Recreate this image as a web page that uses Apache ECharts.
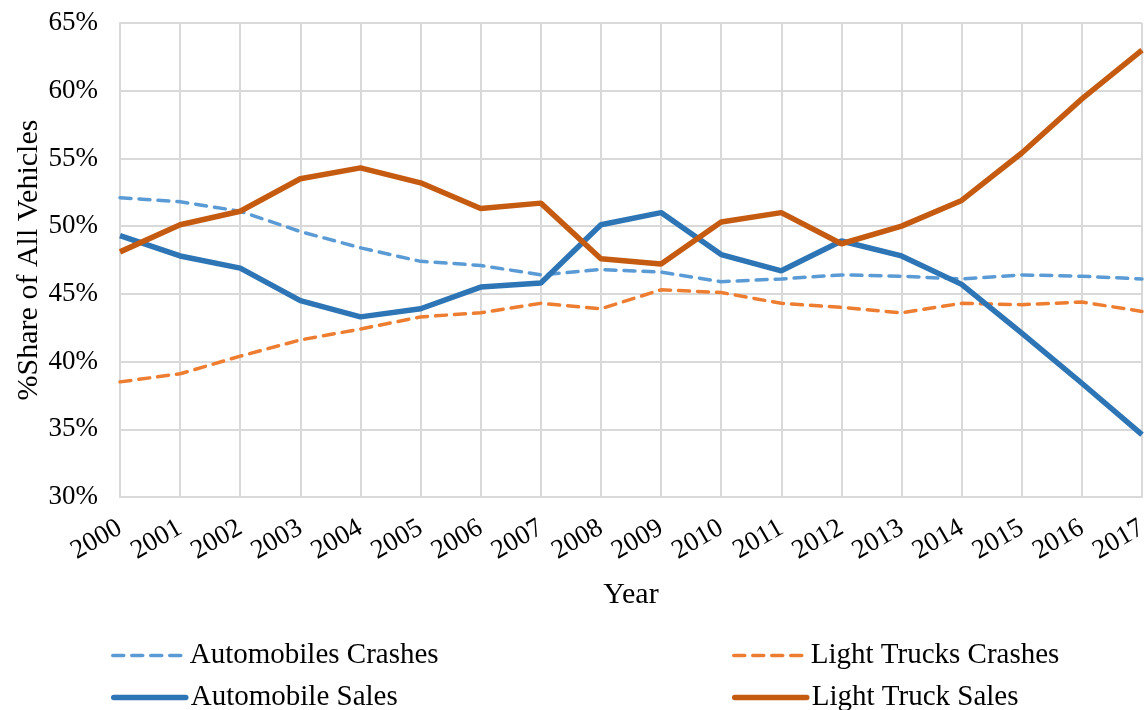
<!DOCTYPE html>
<html>
<head>
<meta charset="utf-8">
<script src="https://cdn.jsdelivr.net/npm/echarts@6/dist/echarts.min.js"></script>
<style>
  html, body { margin: 0; padding: 0; background: #fff; }
  #chart { width: 1145px; height: 710px; }
</style>
</head>
<body>
<div id="chart"></div>
<script>
var years = ['2000', '2001', '2002', '2003', '2004', '2005', '2006', '2007', '2008',
             '2009', '2010', '2011', '2012', '2013', '2014', '2015', '2016', '2017'];

var autoCrashes = [52.1, 51.8, 51.1, 49.6, 48.4, 47.4, 47.1, 46.4, 46.8,
                   46.6, 45.9, 46.1, 46.4, 46.3, 46.1, 46.4, 46.3, 46.1];
var truckCrashes = [38.5, 39.1, 40.4, 41.6, 42.4, 43.3, 43.6, 44.3, 43.9,
                    45.3, 45.1, 44.3, 44.0, 43.6, 44.3, 44.2, 44.4, 43.7];
var autoSales = [49.3, 47.8, 46.9, 44.5, 43.3, 43.9, 45.5, 45.8, 50.1,
                 51.0, 47.9, 46.7, 48.9, 47.8, 45.7, 42.1, 38.4, 34.6];
var truckSales = [48.1, 50.1, 51.1, 53.5, 54.3, 53.2, 51.3, 51.7, 47.6,
                  47.2, 50.3, 51.0, 48.7, 50.0, 51.9, 55.4, 59.4, 63.0];

var font = '"Liberation Serif", "Times New Roman", serif';
var dash = [11, 8];

// one legend block per entry, laid out in a 2x2 grid like the original
function legendAt(name, left, top, lineStyle) {
    return {
        left: left,
        top: top,
        itemWidth: 72,
        itemHeight: 14,
        itemGap: 0,
        padding: 0,
        itemStyle: { opacity: 0 },
        lineStyle: lineStyle,
        textStyle: { fontFamily: font, fontSize: 29, color: '#000' },
        data: [name]
    };
}

var option = {
    animation: false,
    backgroundColor: '#fff',
    grid: {
        left: 120,
        right: 3,
        top: 23,
        bottom: 213,
        containLabel: false,
        outerBoundsMode: 'none'
    },
    legend: [
        legendAt('Automobiles Crashes', 111, 641, { width: 3.5, type: dash, cap: 'round' }),
        legendAt('Automobile Sales', 111, 683, { width: 5.5, cap: 'round' }),
        legendAt('Light Trucks Crashes', 732, 641, { width: 3.5, type: dash, cap: 'round' }),
        legendAt('Light Truck Sales', 732, 683, { width: 5.5, cap: 'round' })
    ],
    xAxis: {
        type: 'category',
        data: years,
        boundaryGap: false,
        name: 'Year',
        nameLocation: 'center',
        nameGap: 83,
        nameMoveOverlap: false,
        nameTextStyle: { fontFamily: font, fontSize: 30, color: '#000' },
        axisLine: { lineStyle: { color: '#d9d9d9', width: 2 } },
        axisTick: { show: false },
        splitLine: { show: true, lineStyle: { color: '#d9d9d9', width: 2 } },
        axisLabel: {
            interval: 0,
            rotate: 30,
            margin: 29,
            fontFamily: font,
            fontSize: 27,
            color: '#000'
        }
    },
    yAxis: {
        type: 'value',
        min: 30,
        max: 65,
        interval: 5,
        name: '%Share of All Vehicles',
        nameLocation: 'center',
        nameGap: 76,
        nameMoveOverlap: false,
        nameTextStyle: { fontFamily: font, fontSize: 30, color: '#000' },
        axisLine: { show: true, lineStyle: { color: '#d9d9d9', width: 2 } },
        axisTick: { show: false },
        splitLine: { show: true, lineStyle: { color: '#d9d9d9', width: 2 } },
        axisLabel: {
            margin: 22,
            fontFamily: font,
            fontSize: 27,
            color: '#000',
            formatter: '{value}%'
        }
    },
    series: [
        {
            name: 'Automobiles Crashes',
            type: 'line',
            data: autoCrashes,
            symbol: 'none',
            color: '#5b9bd5',
            lineStyle: { width: 3.5, type: dash, cap: 'round', color: '#5b9bd5' }
        },
        {
            name: 'Light Trucks Crashes',
            type: 'line',
            data: truckCrashes,
            symbol: 'none',
            color: '#ed7d31',
            lineStyle: { width: 3.5, type: dash, cap: 'round', color: '#ed7d31' }
        },
        {
            name: 'Automobile Sales',
            type: 'line',
            data: autoSales,
            symbol: 'none',
            color: '#2e75b6',
            lineStyle: { width: 5.5, color: '#2e75b6' }
        },
        {
            name: 'Light Truck Sales',
            type: 'line',
            data: truckSales,
            symbol: 'none',
            color: '#c55a11',
            lineStyle: { width: 5.5, color: '#c55a11' }
        }
    ]
};

var myChart = echarts.init(document.getElementById('chart'));
myChart.setOption(option);
</script>
</body>
</html>
